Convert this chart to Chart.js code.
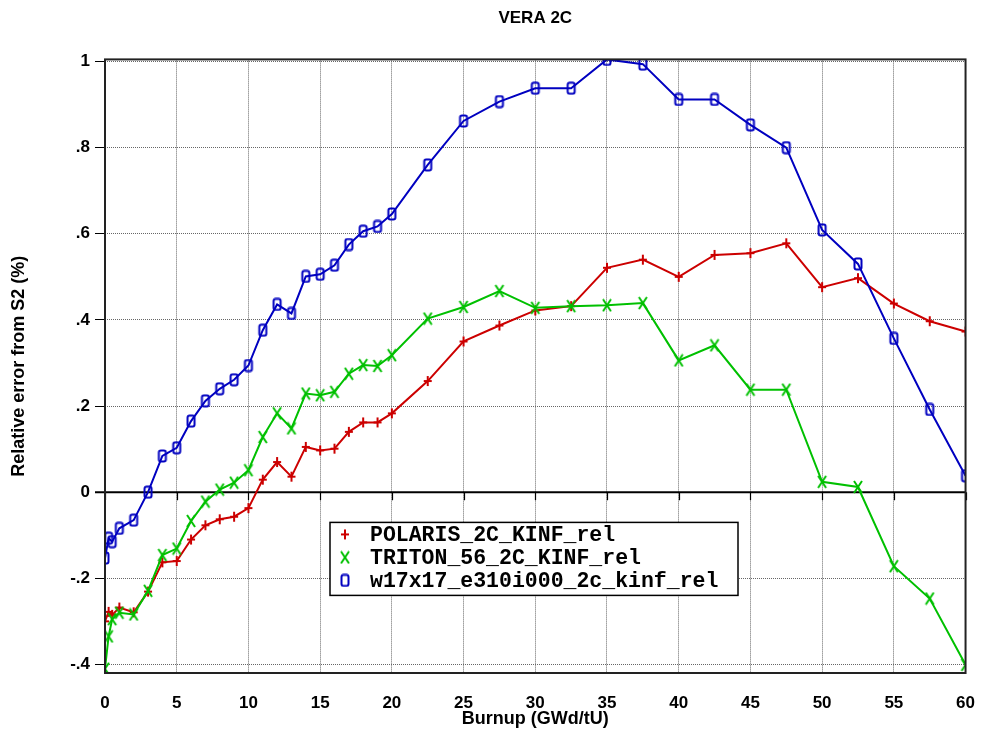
<!DOCTYPE html>
<html>
<head>
<meta charset="utf-8">
<script src="https://cdn.jsdelivr.net/npm/chart.js@4/dist/chart.umd.min.js"></script>
<style>
  html, body { margin: 0; padding: 0; background: #ffffff; overflow: hidden; }
  #wrap { width: 981px; height: 740px; }
</style>
</head>
<body>
<div id="wrap"><canvas id="chart_vera"></canvas></div>
<script>
// burnup steps (GWd/tU) and relative kinf error vs S2 (%)
const burnup   = [0, 0.25, 0.5, 1, 2, 3, 4, 5, 6, 7, 8, 9, 10, 11, 12, 13, 14, 15, 16, 17, 18, 19, 20,
                  22.5, 25, 27.5, 30, 32.5, 35, 37.5, 40, 42.5, 45, 47.5, 50, 52.5, 55, 57.5, 60];
const polaris  = [-0.300, -0.278, -0.285, -0.268, -0.279, -0.231, -0.163, -0.160, -0.110, -0.077, -0.063, -0.057, -0.037,
                  0.029, 0.070, 0.036, 0.105, 0.097, 0.101, 0.140, 0.162, 0.162, 0.183,
                  0.258, 0.350, 0.387, 0.422, 0.432, 0.521, 0.540, 0.500, 0.551, 0.555, 0.578, 0.476, 0.497, 0.438, 0.397, 0.373];
const triton   = [-0.410, -0.335, -0.295, -0.280, -0.284, -0.229, -0.146, -0.131, -0.067, -0.022, 0.006, 0.022, 0.051,
                  0.128, 0.183, 0.148, 0.229, 0.225, 0.233, 0.275, 0.295, 0.293, 0.318,
                  0.403, 0.430, 0.467, 0.428, 0.432, 0.434, 0.439, 0.306, 0.341, 0.238, 0.238, 0.024, 0.012, -0.172, -0.247, -0.401];
const w17x17   = [-0.153, -0.107, -0.115, -0.084, -0.065, 0.000, 0.084, 0.103, 0.165, 0.212, 0.240, 0.261, 0.294,
                  0.376, 0.436, 0.415, 0.501, 0.506, 0.527, 0.575, 0.606, 0.617, 0.646,
                  0.760, 0.862, 0.907, 0.938, 0.938, 1.005, 0.994, 0.912, 0.912, 0.853, 0.800, 0.609, 0.530, 0.357, 0.192, 0.038];

const seriesNames = ['POLARIS_2C_KINF_rel', 'TRITON_56_2C_KINF_rel', 'w17x17_e310i000_2c_kinf_rel'];
const xTicks = [0, 5, 10, 15, 20, 25, 30, 35, 40, 45, 50, 55, 60];
const yTicks = [-0.4, -0.2, 0, 0.2, 0.4, 0.6, 0.8, 1];

const RED   = 'rgb(204, 0, 0)';
const GREEN = 'rgb(0, 192, 0)';
const BLUE  = 'rgb(0, 0, 192)';
const SANS = "'Liberation Sans', Arial, sans-serif";

// little canvases used as point symbols (+, x, tall rounded box)
function makeMarker(kind, color) {
  const c = document.createElement('canvas');
  c.width = 12; c.height = 14;
  const g = c.getContext('2d');
  g.strokeStyle = color;
  g.lineWidth = 2;
  g.beginPath();
  if (kind == 'plus') {
    g.moveTo(6, 2); g.lineTo(6, 12);
    g.moveTo(2, 7); g.lineTo(10, 7);
  } else if (kind == 'x') {
    g.moveTo(2, 1); g.lineTo(10, 13);
    g.moveTo(10, 1); g.lineTo(2, 13);
  } else {
    g.roundRect(2.5, 1.5, 7, 11, 2);
  }
  g.stroke();
  return c;
}
const markers = [makeMarker('plus', RED), makeMarker('x', GREEN), makeMarker('box', BLUE)];

function toPoints(ys) {
  return burnup.map((b, i) => ({ x: b, y: ys[i] }));
}

function tickText(v) {
  const s = String(Math.round(v * 10) / 10);
  return s.replace(/^(-?)0\./, '$1.');
}

// black zero line with its small tick marks, plus the plot frame
const framePlugin = {
  id: 'frame',
  beforeDatasetsDraw(chart) {
    const { ctx, chartArea: a, scales } = chart;
    const y0 = scales.y.getPixelForValue(0);
    ctx.save();
    ctx.strokeStyle = '#000';
    ctx.lineWidth = 2;
    ctx.beginPath();
    ctx.moveTo(a.left - 10, y0);
    ctx.lineTo(a.right, y0);
    ctx.stroke();
    ctx.lineWidth = 1.2;
    ctx.beginPath();
    xTicks.forEach(t => {
      const px = Math.round(scales.x.getPixelForValue(t)) + 0.5;
      ctx.moveTo(px, y0);
      ctx.lineTo(px, y0 + 8);
    });
    ctx.stroke();
    ctx.restore();
  },
  afterDatasetsDraw(chart) {
    const { ctx, chartArea: a } = chart;
    ctx.save();
    ctx.strokeStyle = '#222';
    ctx.lineWidth = 2;
    ctx.strokeRect(a.left, a.top, a.right - a.left, a.bottom - a.top);
    ctx.restore();
  }
};

// boxed legend sitting inside the plot
const boxLegend = {
  id: 'boxLegend',
  afterDraw(chart) {
    const { ctx, chartArea: a } = chart;
    const left = a.left + 225, top = a.top + 463, w = 408, h = 73;
    ctx.save();
    ctx.fillStyle = '#fff';
    ctx.fillRect(left, top, w, h);
    ctx.strokeStyle = '#000';
    ctx.lineWidth = 1.5;
    ctx.strokeRect(left, top, w, h);
    ctx.font = "bold 21.5px 'Liberation Mono', 'Courier New', monospace";
    ctx.textBaseline = 'middle';
    ctx.fillStyle = '#000';
    chart.data.datasets.forEach((ds, i) => {
      const yy = top + 12 + i * 23;
      const m = markers[i];
      ctx.drawImage(m, left + 15 - m.width / 2, yy - m.height / 2);
      ctx.fillText(ds.label, left + 40, yy + 1);
    });
    ctx.restore();
  }
};

const series = [polaris, triton, w17x17];
const colors = [RED, GREEN, BLUE];

const config = {
  type: 'line',
  data: {
    datasets: series.map((ys, i) => ({
      label: seriesNames[i],
      data: toPoints(ys),
      borderColor: colors[i],
      backgroundColor: colors[i],
      borderWidth: 2,
      pointStyle: markers[i],
      pointRadius: 5,
      tension: 0,
      fill: false,
      order: 3 - i
    }))
  },
  options: {
    responsive: true,
    maintainAspectRatio: false,
    animation: false,
    layout: { padding: { top: 0, right: 0, bottom: 0, left: 0 } },
    plugins: {
      legend: { display: false },
      tooltip: { enabled: false },
      title: {
        display: true,
        text: 'VERA 2C',
        fullSize: false,
        color: '#000',
        font: { family: SANS, size: 17, weight: 'bold' },
        padding: { top: 8, bottom: 31 }
      }
    },
    scales: {
      x: {
        type: 'linear',
        min: 0,
        max: 60,
        afterBuildTicks: s => { s.ticks = xTicks.map(v => ({ value: v })); },
        afterFit: s => { s.height = 67; },
        // invisible tick marks just push the labels down
        grid: { color: '#666', lineWidth: 1, drawTicks: true, tickLength: 14, tickColor: 'rgba(0,0,0,0)' },
        border: { display: false, dash: [1, 1] },
        ticks: {
          color: '#000',
          padding: 6,
          maxRotation: 0,
          font: { family: SANS, size: 17, weight: 'bold' }
        },
        title: {
          display: true,
          text: 'Burnup (GWd/tU)',
          color: '#000',
          font: { family: SANS, size: 18, weight: 'bold' },
          padding: { top: 0, bottom: 10 }
        }
      },
      y: {
        type: 'linear',
        min: -0.42,
        max: 1.005,
        afterBuildTicks: s => { s.ticks = yTicks.map(v => ({ value: v })); },
        afterFit: s => { s.width = 105; },
        grid: { color: '#666', lineWidth: 1, drawTicks: true, tickLength: 10, tickColor: '#000', tickBorderDash: [] },
        border: { display: false, dash: [1, 1] },
        ticks: {
          color: '#000',
          padding: 5,
          callback: v => tickText(v),
          font: { family: SANS, size: 17, weight: 'bold' }
        },
        title: {
          display: true,
          text: 'Relative error from S2 (%)',
          color: '#000',
          font: { family: SANS, size: 18, weight: 'bold' },
          padding: { top: 8, bottom: 0 }
        }
      }
    }
  },
  plugins: [framePlugin, boxLegend]
};

const chartVera = new Chart(document.getElementById('chart_vera'), config);
</script>
</body>
</html>
